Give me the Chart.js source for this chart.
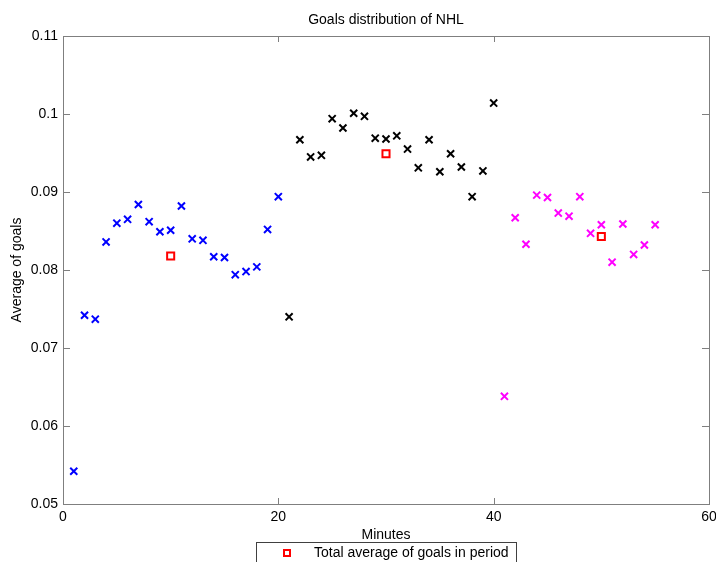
<!DOCTYPE html>
<html>
<head>
<meta charset="utf-8">
<title>Goals distribution of NHL</title>
<script src="https://cdn.jsdelivr.net/npm/chart.js@4.4.1/dist/chart.umd.min.js"></script>
<style>
  html, body { margin: 0; padding: 0; background: #fff; }
  #wrap { width: 716px; height: 562px; }
</style>
</head>
<body>
<div id="wrap"><canvas id="goals" width="716" height="562"></canvas></div>
<script>
// average goals per minute, one array per period
var period1Minutes = [1, 2, 3, 4, 5, 6, 7, 8, 9, 10, 11, 12, 13, 14, 15, 16, 17, 18, 19, 20];
var period1Goals = [0.0542, 0.0742, 0.0737, 0.0836, 0.0860, 0.0865, 0.0884, 0.0862, 0.0849, 0.0851,
                    0.0882, 0.0840, 0.0838, 0.0817, 0.0816, 0.0794, 0.0798, 0.0804, 0.0852, 0.0894];

var period2Minutes = [21, 22, 23, 24, 25, 26, 27, 28, 29, 30, 31, 32, 33, 34, 35, 36, 37, 38, 39, 40];
var period2Goals = [0.0740, 0.0967, 0.0945, 0.0947, 0.0994, 0.0982, 0.1001, 0.0997, 0.0969, 0.0968,
                    0.0972, 0.0955, 0.0931, 0.0967, 0.0926, 0.0949, 0.0932, 0.0894, 0.0927, 0.1014];

var period3Minutes = [41, 42, 43, 44, 45, 46, 47, 48, 49, 50, 51, 52, 53, 54, 55];
var period3Goals = [0.0638, 0.0867, 0.0833, 0.0896, 0.0893, 0.0873, 0.0869, 0.0894, 0.0847, 0.0858,
                    0.0810, 0.0859, 0.0820, 0.0832, 0.0858];

// mean of each period, plotted at the period's middle minute
var periodMidMinutes = [10, 30, 50];
var periodAverages = [0.0818, 0.0949, 0.0843];

var xTicks = [0, 20, 40, 60];
var yTicks = [0.05, 0.06, 0.07, 0.08, 0.09, 0.1, 0.11];

var FONT = '"Liberation Sans", Arial, sans-serif';
var AXIS_GREY = '#7f7f7f';

function toPoints(xs, ys) {
    return xs.map(function(x, i) { return { x: x, y: ys[i] }; });
}

function crosses(label, xs, ys, colour) {
    return {
        label: label,
        data: toPoints(xs, ys),
        pointStyle: 'crossRot',
        pointRadius: 5,
        pointHoverRadius: 5,
        borderColor: colour,
        backgroundColor: colour,
        pointBorderWidth: 2,
        showLine: false
    };
}

// box around the axes, inward tick marks and the legend under the axis
var framePlugin = {
    id: 'frame',
    afterDraw: function(chart) {
        var ctx = chart.ctx;
        var a = chart.chartArea;
        var xs = chart.scales.x, ys = chart.scales.y;
        ctx.save();
        ctx.strokeStyle = AXIS_GREY;
        ctx.lineWidth = 1;
        ctx.strokeRect(Math.round(a.left) + 0.5, Math.round(a.top) + 0.5,
                       Math.round(a.right - a.left), Math.round(a.bottom - a.top));
        ctx.beginPath();
        xTicks.forEach(function(v) {
            var px = Math.round(xs.getPixelForValue(v)) + 0.5;
            ctx.moveTo(px, a.bottom);
            ctx.lineTo(px, a.bottom - 6);
            ctx.moveTo(px, a.top);
            ctx.lineTo(px, a.top + 6);
        });
        yTicks.forEach(function(v) {
            var py = Math.round(ys.getPixelForValue(v)) + 0.5;
            ctx.moveTo(a.right, py);
            ctx.lineTo(a.right - 7, py);
            ctx.moveTo(a.left, py);
            ctx.lineTo(a.left + 7, py);
        });
        ctx.stroke();

        // legend for the period averages only
        var ds = chart.data.datasets[3];
        ctx.strokeStyle = '#404040';
        ctx.strokeRect(256.5, 542.5, 260, 30);
        ctx.strokeStyle = ds.borderColor;
        ctx.lineWidth = 2;
        ctx.strokeRect(284, 550, 6, 6);
        ctx.fillStyle = '#000';
        ctx.font = '14px ' + FONT;
        ctx.textBaseline = 'middle';
        ctx.fillText(ds.label, 314, 553.5);
        ctx.restore();
    }
};

var chart = new Chart(document.getElementById('goals').getContext('2d'), {
    type: 'scatter',
    data: {
        datasets: [
            crosses('Period 1', period1Minutes, period1Goals, '#0000ff'),
            crosses('Period 2', period2Minutes, period2Goals, '#000000'),
            crosses('Period 3', period3Minutes, period3Goals, '#ff00ff'),
            {
                label: 'Total average of goals in period',
                data: toPoints(periodMidMinutes, periodAverages),
                pointStyle: 'rect',
                pointRadius: 5,
                pointHoverRadius: 5,
                borderColor: '#ff0000',
                backgroundColor: '#ffffff',
                pointBorderWidth: 2,
                showLine: false
            }
        ]
    },
    options: {
        responsive: false,
        devicePixelRatio: 1,
        animation: false,
        layout: { padding: { top: 0, right: 7, bottom: 0, left: 0 } },
        plugins: {
            legend: { display: false },
            tooltip: { enabled: false },
            title: {
                display: true,
                text: 'Goals distribution of NHL',
                fullSize: false,
                color: '#000',
                font: { family: FONT, size: 14, weight: 'normal', lineHeight: 1.2 },
                padding: { top: 11.6, bottom: 7.6 }
            }
        },
        scales: {
            x: {
                type: 'linear',
                min: 0,
                max: 60,
                afterBuildTicks: function(scale) {
                    scale.ticks = xTicks.map(function(v) { return { value: v }; });
                },
                afterFit: function(scale) {
                    scale.height = 58;
                    scale.paddingLeft = 0;
                    scale.paddingRight = 0;
                },
                grid: { display: false, drawTicks: false },
                border: { display: false },
                ticks: {
                    color: '#000',
                    padding: 5,
                    maxRotation: 0,
                    font: { family: FONT, size: 14 }
                },
                title: {
                    display: true,
                    text: 'Minutes',
                    color: '#000',
                    font: { family: FONT, size: 14 },
                    padding: { top: 0, bottom: 18.6 }
                }
            },
            y: {
                type: 'linear',
                min: 0.05,
                max: 0.11,
                afterBuildTicks: function(scale) {
                    scale.ticks = yTicks.map(function(v) { return { value: v }; });
                },
                afterFit: function(scale) {
                    scale.width = 63;
                    scale.paddingTop = 0;
                    scale.paddingBottom = 0;
                },
                grid: { display: false, drawTicks: false },
                border: { display: false },
                ticks: {
                    color: '#000',
                    padding: 5,
                    font: { family: FONT, size: 14 },
                    callback: function(v) { return String(Number(v.toFixed(2))); }
                },
                title: {
                    display: true,
                    text: 'Average of goals',
                    color: '#000',
                    font: { family: FONT, size: 14 },
                    padding: { top: 8.6, bottom: 0 }
                }
            }
        }
    },
    plugins: [framePlugin]
});
</script>
</body>
</html>
